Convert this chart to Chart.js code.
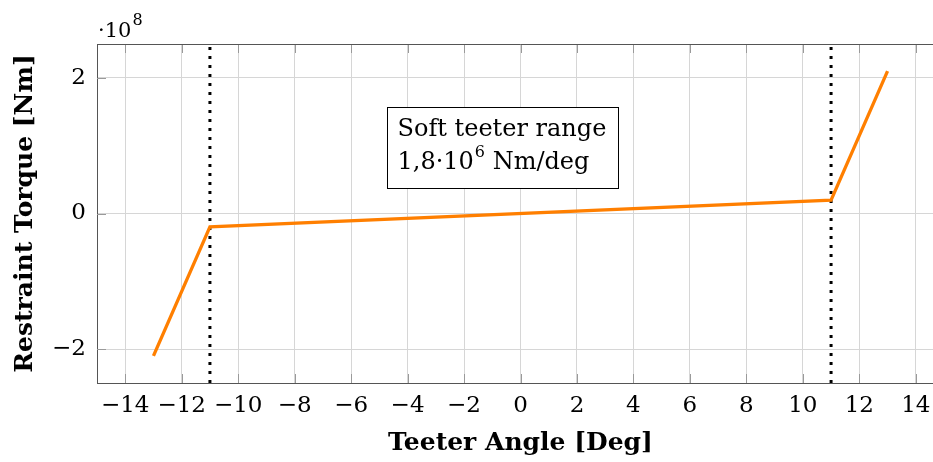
<!DOCTYPE html>
<html>
<head>
<meta charset="utf-8">
<script src="https://cdn.jsdelivr.net/npm/chart.js@4.4.1/dist/chart.umd.min.js"></script>
<style>
  html, body { margin: 0; padding: 0; background: #fff; overflow: hidden; }
  canvas { display: block; }
</style>
</head>
<body>
<canvas id="grafico" width="946" height="462"></canvas>
<script>
// valores
const angulos = [-13, -11, 11, 13];
const torques = [-2.1e8, -1.98e7, 1.98e7, 2.1e8];
const bordesSuaves = [-11, 11];
const ticksX = [-14, -12, -10, -8, -6, -4, -2, 0, 2, 4, 6, 8, 10, 12, 14];
const ticksY = [-2e8, 0, 2e8];
const limitesX = [-15, 15];
const limitesY = [-2.5e8, 2.5e8];
const escalaY = 1e8;
const notaTexto = ['Soft teeter range', '1,8·10', '6', ' Nm/deg'];
const notaPos = { x: -0.64, y: 0.98e8 };

const serif = "'DejaVu Serif', serif";
const menos = v => (v < 0 ? '\u2212' + Math.abs(v) : String(v));

const puntos = angulos.map((a, i) => ({ x: a, y: torques[i] }));
const lineasBorde = bordesSuaves.map(b => ({
  data: [{ x: b, y: limitesY[0] }, { x: b, y: limitesY[1] }],
  borderColor: '#000',
  borderWidth: 3,
  borderDash: [3, 6],
  borderCapStyle: 'butt',
  pointRadius: 0,
  showLine: true,
  fill: false
}));

const marco = {
  id: 'marco',
  beforeDatasetsDraw(chart) {
    const { ctx, chartArea: a, scales } = chart;
    ctx.save();
    ctx.strokeStyle = '#9a9a9a';
    ctx.lineWidth = 1;
    ctx.beginPath();
    ticksX.forEach(v => {
      const px = Math.round(scales.x.getPixelForValue(v)) + 0.5;
      ctx.moveTo(px, a.bottom); ctx.lineTo(px, a.bottom - 9);
      ctx.moveTo(px, a.top); ctx.lineTo(px, a.top + 9);
    });
    ticksY.forEach(v => {
      const py = Math.round(scales.y.getPixelForValue(v)) + 0.5;
      ctx.moveTo(a.left, py); ctx.lineTo(a.left + 9, py);
    });
    ctx.stroke();
    ctx.strokeStyle = '#555';
    ctx.beginPath();
    ctx.moveTo(a.left, a.top + 0.5);
    ctx.lineTo(a.right, a.top + 0.5);
    ctx.stroke();
    ctx.restore();
  },
  afterDraw(chart) {
    const { ctx, chartArea: a, scales } = chart;
    ctx.save();
    ctx.fillStyle = '#000';
    ctx.textBaseline = 'alphabetic';
    // factor de escala del eje y
    ctx.font = '21px ' + serif;
    ctx.fillText('·10', a.left + 1, a.top - 7);
    const w = ctx.measureText('·10').width;
    ctx.font = '16px ' + serif;
    ctx.fillText(String(Math.log10(escalaY)), a.left + 2 + w, a.top - 19);

    // caja de anotacion
    const cx = scales.x.getPixelForValue(notaPos.x);
    const cy = scales.y.getPixelForValue(notaPos.y);
    const bw = 231, bh = 81;
    const bx = Math.round(cx - bw / 2) + 0.5, by = Math.round(cy - bh / 2) + 0.5;
    ctx.fillStyle = '#fff';
    ctx.fillRect(bx, by, bw, bh);
    ctx.strokeStyle = '#000';
    ctx.lineWidth = 1;
    ctx.strokeRect(bx, by, bw, bh);
    ctx.fillStyle = '#000';
    ctx.textBaseline = 'middle';
    ctx.font = '24px ' + serif;
    ctx.fillText(notaTexto[0], bx + 10, by + 22);
    let tx = bx + 10;
    const y2 = by + 55;
    ctx.fillText(notaTexto[1], tx, y2);
    tx += ctx.measureText(notaTexto[1]).width;
    ctx.font = '16px ' + serif;
    ctx.fillText(notaTexto[2], tx + 1, y2 - 10);
    tx += ctx.measureText(notaTexto[2]).width + 1;
    ctx.font = '24px ' + serif;
    ctx.fillText(notaTexto[3], tx, y2);
    ctx.restore();
  }
};

const ctx = document.getElementById('grafico').getContext('2d');
Chart.defaults.color = '#000';
new Chart(ctx, {
  type: 'scatter',
  data: {
    datasets: [{
      data: puntos,
      borderColor: 'rgb(255,127,0)',
      borderWidth: 3.3,
      pointRadius: 0,
      showLine: true,
      fill: false
    }, ...lineasBorde]
  },
  options: {
    responsive: false,
    animation: false,
    layout: { padding: { top: 44, right: 2, left: 0, bottom: 0 } },
    plugins: {
      legend: { display: false },
      tooltip: { enabled: false }
    },
    scales: {
      x: {
        type: 'linear',
        min: limitesX[0],
        max: limitesX[1],
        afterBuildTicks: axis => { axis.ticks = ticksX.map(v => ({ value: v })); },
        afterFit: axis => { axis.height = 79; },
        ticks: {
          padding: 9,
          maxRotation: 0,
          autoSkip: false,
          font: { family: serif, size: 23 },
          callback: v => menos(v)
        },
        grid: { color: '#d6d6d6', drawTicks: false },
        border: { color: '#555', width: 1 },
        title: {
          display: true,
          text: 'Teeter Angle [Deg]',
          font: { family: serif, size: 25, weight: 'bold' },
          padding: { top: 0, bottom: 4 }
        }
      },
      y: {
        type: 'linear',
        min: limitesY[0],
        max: limitesY[1],
        afterBuildTicks: axis => { axis.ticks = ticksY.map(v => ({ value: v })); },
        afterFit: axis => { axis.width = 97; },
        ticks: {
          padding: 11,
          font: { family: serif, size: 23 },
          callback: v => menos(Math.round(v / escalaY))
        },
        grid: { color: '#d6d6d6', drawTicks: false },
        border: { color: '#555', width: 1 },
        title: {
          display: true,
          text: 'Restraint Torque [Nm]',
          font: { family: serif, size: 25, weight: 'bold' },
          padding: { top: 10, bottom: 0 }
        }
      }
    }
  },
  plugins: [marco]
});
</script>
</body>
</html>
